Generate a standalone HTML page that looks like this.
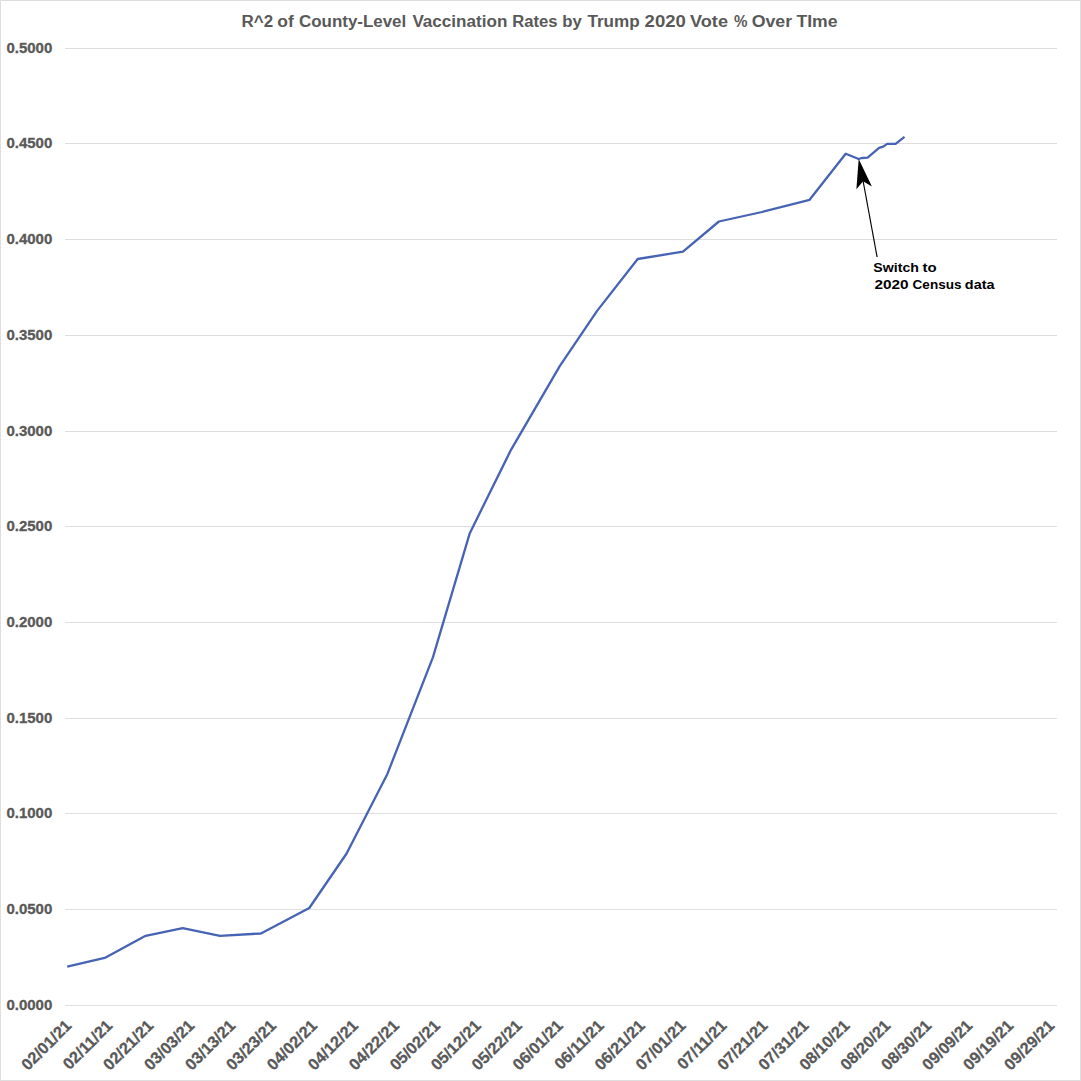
<!DOCTYPE html>
<html><head><meta charset="utf-8"><style>
html,body{margin:0;padding:0;background:#fff;}
svg{display:block;}
</style></head><body>
<svg width="1081" height="1081" viewBox="0 0 1081 1081">
<rect x="0.5" y="0.5" width="1080" height="1080" fill="#fff" stroke="#DEDEDE" stroke-width="1"/>
<g font-family="Liberation Sans, sans-serif" font-size="17.2" font-weight="bold" fill="#595959">
<text x="241.61" y="26.7" textLength="31.59" lengthAdjust="spacingAndGlyphs">R^2</text>
<text x="277.29" y="26.7" textLength="16.45" lengthAdjust="spacingAndGlyphs">of</text>
<text x="299.01" y="26.7" textLength="107.25" lengthAdjust="spacingAndGlyphs">County-Level</text>
<text x="412.40" y="26.7" textLength="94.93" lengthAdjust="spacingAndGlyphs">Vaccination</text>
<text x="512.23" y="26.7" textLength="45.25" lengthAdjust="spacingAndGlyphs">Rates</text>
<text x="562.23" y="26.7" textLength="19.53" lengthAdjust="spacingAndGlyphs">by</text>
<text x="587.40" y="26.7" textLength="52.33" lengthAdjust="spacingAndGlyphs">Trump</text>
<text x="644.62" y="26.7" textLength="41.22" lengthAdjust="spacingAndGlyphs">2020</text>
<text x="690.10" y="26.7" textLength="37.87" lengthAdjust="spacingAndGlyphs">Vote</text>
<text x="734.00" y="26.7" textLength="13.46" lengthAdjust="spacingAndGlyphs">%</text>
<text x="751.67" y="26.7" textLength="40.46" lengthAdjust="spacingAndGlyphs">Over</text>
<text x="796.40" y="26.7" textLength="41.12" lengthAdjust="spacingAndGlyphs">TIme</text>
</g>
<rect x="65" y="1005" width="992" height="1" fill="#DEDEDE"/>
<rect x="65" y="909" width="992" height="1" fill="#DEDEDE"/>
<rect x="65" y="813" width="992" height="1" fill="#DEDEDE"/>
<rect x="65" y="718" width="992" height="1" fill="#DEDEDE"/>
<rect x="65" y="622" width="992" height="1" fill="#DEDEDE"/>
<rect x="65" y="526" width="992" height="1" fill="#DEDEDE"/>
<rect x="65" y="431" width="992" height="1" fill="#DEDEDE"/>
<rect x="65" y="335" width="992" height="1" fill="#DEDEDE"/>
<rect x="65" y="239" width="992" height="1" fill="#DEDEDE"/>
<rect x="65" y="143" width="992" height="1" fill="#DEDEDE"/>
<rect x="65" y="48" width="992" height="1" fill="#DEDEDE"/>

<g font-family="Liberation Sans, sans-serif" font-size="15" font-weight="bold" fill="#595959" stroke="#595959" stroke-width="0.3">
<text x="52.3" y="1010.0" text-anchor="end">0.0000</text>
<text x="52.3" y="914.0" text-anchor="end">0.0500</text>
<text x="52.3" y="818.0" text-anchor="end">0.1000</text>
<text x="52.3" y="723.0" text-anchor="end">0.1500</text>
<text x="52.3" y="627.0" text-anchor="end">0.2000</text>
<text x="52.3" y="531.0" text-anchor="end">0.2500</text>
<text x="52.3" y="436.0" text-anchor="end">0.3000</text>
<text x="52.3" y="340.0" text-anchor="end">0.3500</text>
<text x="52.3" y="244.0" text-anchor="end">0.4000</text>
<text x="52.3" y="148.0" text-anchor="end">0.4500</text>
<text x="52.3" y="53.0" text-anchor="end">0.5000</text>

</g>
<g font-family="Liberation Sans, sans-serif" font-size="16.2" font-weight="bold" fill="#595959" stroke="#595959" stroke-width="0.3">
<text transform="translate(72.46,1026.6) rotate(-45)" text-anchor="end">02/01/21</text>
<text transform="translate(113.41,1026.6) rotate(-45)" text-anchor="end">02/11/21</text>
<text transform="translate(154.36,1026.6) rotate(-45)" text-anchor="end">02/21/21</text>
<text transform="translate(195.31,1026.6) rotate(-45)" text-anchor="end">03/03/21</text>
<text transform="translate(236.26,1026.6) rotate(-45)" text-anchor="end">03/13/21</text>
<text transform="translate(277.21,1026.6) rotate(-45)" text-anchor="end">03/23/21</text>
<text transform="translate(318.16,1026.6) rotate(-45)" text-anchor="end">04/02/21</text>
<text transform="translate(359.11,1026.6) rotate(-45)" text-anchor="end">04/12/21</text>
<text transform="translate(400.06,1026.6) rotate(-45)" text-anchor="end">04/22/21</text>
<text transform="translate(441.01,1026.6) rotate(-45)" text-anchor="end">05/02/21</text>
<text transform="translate(481.96,1026.6) rotate(-45)" text-anchor="end">05/12/21</text>
<text transform="translate(522.91,1026.6) rotate(-45)" text-anchor="end">05/22/21</text>
<text transform="translate(563.86,1026.6) rotate(-45)" text-anchor="end">06/01/21</text>
<text transform="translate(604.81,1026.6) rotate(-45)" text-anchor="end">06/11/21</text>
<text transform="translate(645.76,1026.6) rotate(-45)" text-anchor="end">06/21/21</text>
<text transform="translate(686.71,1026.6) rotate(-45)" text-anchor="end">07/01/21</text>
<text transform="translate(727.66,1026.6) rotate(-45)" text-anchor="end">07/11/21</text>
<text transform="translate(768.61,1026.6) rotate(-45)" text-anchor="end">07/21/21</text>
<text transform="translate(809.56,1026.6) rotate(-45)" text-anchor="end">07/31/21</text>
<text transform="translate(850.51,1026.6) rotate(-45)" text-anchor="end">08/10/21</text>
<text transform="translate(891.46,1026.6) rotate(-45)" text-anchor="end">08/20/21</text>
<text transform="translate(932.41,1026.6) rotate(-45)" text-anchor="end">08/30/21</text>
<text transform="translate(973.36,1026.6) rotate(-45)" text-anchor="end">09/09/21</text>
<text transform="translate(1014.31,1026.6) rotate(-45)" text-anchor="end">09/19/21</text>
<text transform="translate(1055.26,1026.6) rotate(-45)" text-anchor="end">09/29/21</text>

</g>
<polyline points="67.2,966.7 104.7,957.9 145.6,935.8 182.7,928.1 220,935.8 260.9,933.5 309.3,908.0 346.6,853.5 387.4,773.9 432.9,657.3 469.8,533.2 511,449.8 559.9,365.8 597.1,310.9 637.7,259 683,251.6 718.9,221.5 762,212 809.6,199.8 845.7,153.7 858.7,159 861.8,158 867.6,157.7 879.1,147.8 883.2,146.6 887.2,143.9 895.6,143.9 904.5,136.9" fill="none" stroke="#4763B4" stroke-width="2.3" stroke-linejoin="round" stroke-linecap="butt"/>
<line x1="877.1" y1="257" x2="863.1" y2="181" stroke="#000" stroke-width="1.15"/>
<polygon points="858.7,159 871.9,186.5 863.1,181.2 856.4,189.3" fill="#000"/>
<g font-family="Liberation Sans, sans-serif" font-size="13.5" font-weight="bold" fill="#000">
<text x="873.35" y="271.8" textLength="45.59" lengthAdjust="spacingAndGlyphs">Switch</text>
<text x="922.50" y="271.8" textLength="14.13" lengthAdjust="spacingAndGlyphs">to</text>
<text x="874.40" y="288.8" textLength="34.16" lengthAdjust="spacingAndGlyphs">2020</text>
<text x="912.60" y="288.8" textLength="48.88" lengthAdjust="spacingAndGlyphs">Census</text>
<text x="964.83" y="288.8" textLength="29.72" lengthAdjust="spacingAndGlyphs">data</text>
</g>
</svg>
</body></html>
